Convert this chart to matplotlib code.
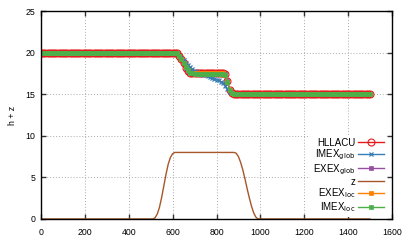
import matplotlib
matplotlib.use("Agg")
import matplotlib.pyplot as plt
import numpy as np

plt.rcParams['font.family'] = ['Liberation Sans', 'DejaVu Sans']

# x positions (every 10 m)
x = list(range(0, 1510, 10))

hllacu = ([20.0] * 62 +
          [19.9, 19.6, 19.2, 18.7, 18.2, 17.8, 17.55, 17.5] +
          [17.5] * 14 +
          [17.4, 16.6, 15.5, 15.1] +
          [15.0] * 63)

imex_glob = ([20.0] * 62 +
             [19.85, 19.65, 19.4, 19.1, 18.8, 18.5, 18.25, 18.0, 17.8, 17.65,
              17.55, 17.45, 17.35, 17.25, 17.15, 17.05, 16.95, 16.85, 16.75, 16.65,
              16.5, 16.3, 16.0, 15.6, 15.3, 15.15, 15.08, 15.03] +
             [15.0] * 61)

exex_glob = ([20.0] * 62 +
             [19.9, 19.6, 19.2, 18.7, 18.2, 17.8, 17.55, 17.5] +
             [17.5] * 14 +
             [17.4, 16.6, 15.5, 15.1] +
             [15.0] * 63)

z = ([0.0] * 52 +
     [0.15, 0.6, 1.4, 2.6, 4.0, 5.4, 6.6, 7.4, 7.85] +
     [8.0] * 28 +
     [7.9, 7.5, 6.8, 5.9, 4.8, 3.6, 2.5, 1.5, 0.7, 0.2] +
     [0.0] * 52)

exex_loc = ([20.0] * 62 +
            [19.9, 19.65, 19.25, 18.75, 18.25, 17.85, 17.6, 17.5] +
            [17.5] * 14 +
            [17.3, 16.5, 15.5, 15.1] +
            [15.0] * 63)

imex_loc = ([20.0] * 62 +
            [19.9, 19.65, 19.25, 18.75, 18.25, 17.85, 17.6, 17.5] +
            [17.45] * 14 +
            [17.3, 16.5, 15.5, 15.1] +
            [15.0] * 63)

labels = ['HLLACU', r'IMEX$_{\rm glob}$', r'EXEX$_{\rm glob}$', 'z',
          r'EXEX$_{\rm loc}$', r'IMEX$_{\rm loc}$']

fig = plt.figure(figsize=(4.07, 2.44), dpi=100)
ax = fig.add_axes([41/407, 25/244, 351/407, 208/244])

ax.plot(x, hllacu, color='#e41a1c', lw=1, marker='o', ms=5.0, mfc='none', mew=0.8, label=labels[0])
ax.plot(x, imex_glob, color='#377eb8', lw=1, marker='x', ms=3.5, mew=0.9, label=labels[1])
ax.plot(x, exex_glob, color='#984ea3', lw=1, marker='s', ms=3.2, mew=0.5, label=labels[2])
ax.plot(x, z, color='#a65628', lw=1, label=labels[3])
ax.plot(x, exex_loc, color='#ff7f00', lw=1, marker='s', ms=3.2, mew=0.5, label=labels[4])
ax.plot(x, imex_loc, color='#4daf4a', lw=1, marker='s', ms=3.2, mew=0.5, label=labels[5])

ax.set_xlim(0, 1600)
ax.set_ylim(0, 25)
ax.set_xticks(range(0, 1601, 200))
ax.set_yticks(range(0, 26, 5))
ax.tick_params(direction='in', length=3.5, width=1, top=True, right=True,
               labelsize=6.3, colors='#333333', labelcolor='black')
ax.tick_params(axis='x', pad=6.5)
ax.tick_params(axis='y', pad=4)
ax.grid(True, linestyle=(0, (1, 2)), color='#aaaaaa', lw=0.7)
for s in ax.spines.values():
    s.set_linewidth(1)
    s.set_color('black')
ax.set_ylabel('h + z', fontsize=6.3, labelpad=6)

leg = ax.legend(loc='lower right', markerfirst=False, fontsize=7, frameon=True,
                framealpha=1, edgecolor='white', handlelength=2.7,
                labelspacing=0.0, borderpad=0.3, handletextpad=0.3,
                bbox_to_anchor=(1.0, -0.014))
leg.get_frame().set_linewidth(0)

fig.savefig('out.png', dpi=100)
